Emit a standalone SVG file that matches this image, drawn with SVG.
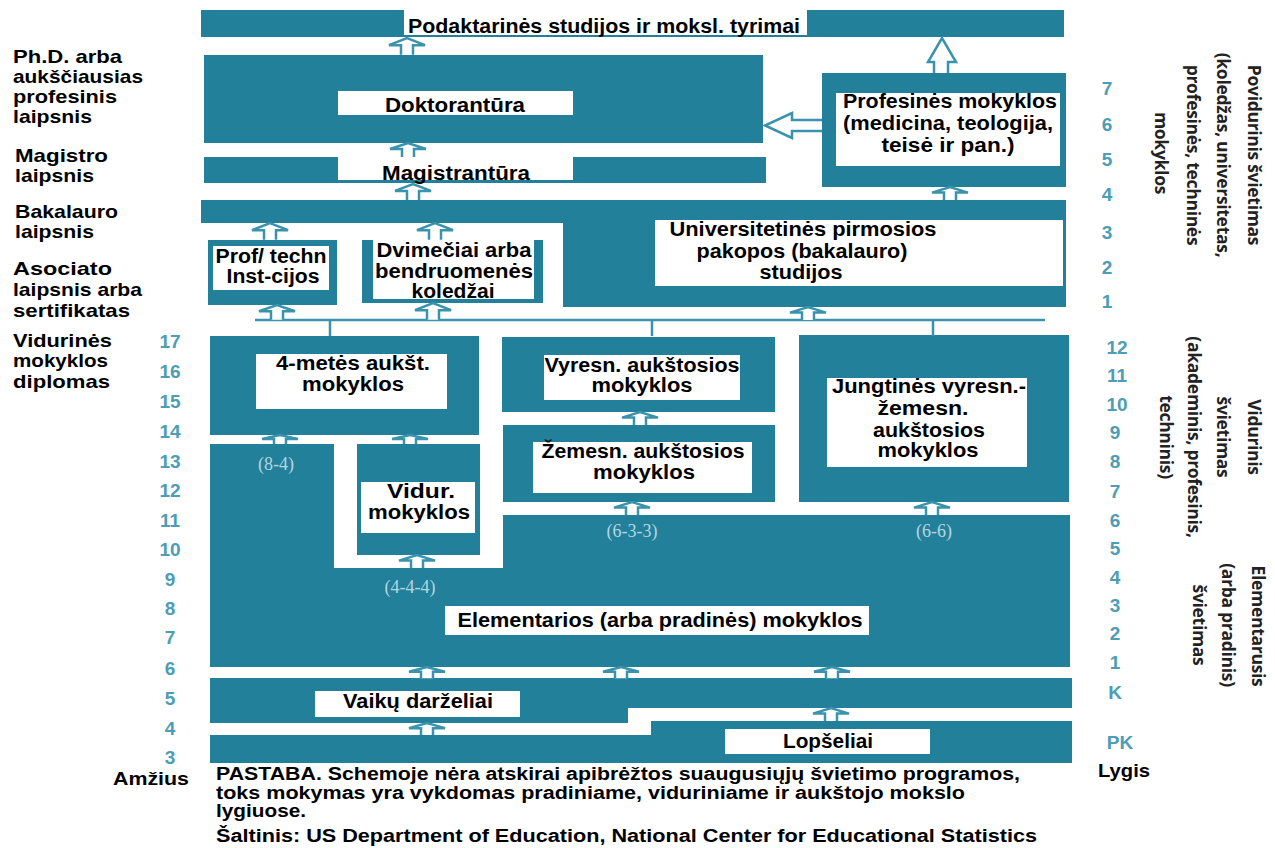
<svg xmlns="http://www.w3.org/2000/svg" xmlns:xlink="http://www.w3.org/1999/xlink" width="1275" height="848" viewBox="0 0 1275 848">
  <style>
    .blk { fill: #22809a; }
    .lbl { fill: #ffffff; }
    .t { font-family: "Liberation Sans", Arial, sans-serif; font-weight: bold; font-size: 20px; fill: #000; }
    .tc { text-anchor: middle; }
    .side { font-family: "Liberation Sans", Arial, sans-serif; font-weight: bold; font-size: 19px; fill: #000; }
    .num { font-family: "Liberation Sans", Arial, sans-serif; font-weight: bold; font-size: 19px; fill: #4d9db6; text-anchor: middle; }
    .plan { font-family: "Liberation Serif", "Times New Roman", serif; font-size: 18px; fill: #b3d6e1; text-anchor: middle; }
    .vert { font-family: "Open Sans", "Noto Sans", sans-serif; font-weight: bold; font-size: 17.5px; fill: #222; letter-spacing: -0.3px; text-anchor: middle; }
    .note { font-family: "Liberation Sans", Arial, sans-serif; font-weight: bold; font-size: 18px; fill: #000; }
    .arr { fill: #ffffff; stroke: #3a93ad; stroke-width: 2.5; stroke-linejoin: miter; }
    .link { stroke: #3a93ad; stroke-width: 2.5; fill: none; }
  </style>
  <defs>
    <!-- small hollow up-arrow, 14 units tall, tip at origin -->
    <path id="up" d="M-6,14 V6 H-18 L0,0 L18,6 H6 V14" vector-effect="non-scaling-stroke"/>
  </defs>

  <rect width="1275" height="848" fill="#ffffff"/>

  <!-- post-doctoral bar -->
  <g id="podaktarines">
    <rect class="blk" x="201" y="10" width="863" height="27"/>
    <rect class="lbl" x="404" y="10" width="403" height="25"/>
    <text class="t" x="408" y="33" textLength="392" lengthAdjust="spacingAndGlyphs">Podaktarinės studijos ir moksl. tyrimai</text>
  </g>

  <g id="doktorantura">
    <rect class="blk" x="204" y="55" width="559" height="88"/>
    <rect class="lbl" x="338" y="91" width="235" height="24"/>
    <text class="t tc" x="455" y="112" textLength="140" lengthAdjust="spacingAndGlyphs">Doktorantūra</text>
  </g>

  <g id="magistrantura">
    <rect class="blk" x="204" y="157" width="562" height="26"/>
    <rect class="lbl" x="338" y="157" width="235" height="23"/>
    <text class="t tc" x="456" y="180" textLength="148" lengthAdjust="spacingAndGlyphs">Magistrantūra</text>
  </g>

  <g id="profesines">
    <rect class="blk" x="822" y="73" width="244" height="114"/>
    <rect class="lbl" x="836" y="93" width="224" height="73"/>
    <text class="t tc" x="950" y="108" textLength="214" lengthAdjust="spacingAndGlyphs">Profesinės mokyklos</text>
    <text class="t tc" x="948" y="130" textLength="210" lengthAdjust="spacingAndGlyphs">(medicina, teologija,</text>
    <text class="t tc" x="948" y="152" textLength="133" lengthAdjust="spacingAndGlyphs">teisė ir  pan.)</text>
  </g>

  <g id="universitetines">
    <path class="blk" d="M201,200 H1066 V307 H563 V223 H201 Z"/>
    <rect class="lbl" x="655" y="220" width="408" height="66"/>
    <text class="t tc" x="803" y="236" textLength="267" lengthAdjust="spacingAndGlyphs">Universitetinės pirmosios</text>
    <text class="t tc" x="802" y="258" textLength="211" lengthAdjust="spacingAndGlyphs">pakopos (bakalauro)</text>
    <text class="t tc" x="801" y="279" textLength="83" lengthAdjust="spacingAndGlyphs">studijos</text>
  </g>

  <g id="prof-techn">
    <rect class="blk" x="208" y="240" width="129" height="65"/>
    <rect class="lbl" x="213" y="246" width="116" height="44"/>
    <text class="t tc" x="271" y="263" textLength="111" lengthAdjust="spacingAndGlyphs">Prof/ techn</text>
    <text class="t tc" x="273" y="283" textLength="93" lengthAdjust="spacingAndGlyphs">Inst-cijos</text>
  </g>

  <g id="dvimeciai">
    <rect class="blk" x="362" y="240" width="181" height="63"/>
    <rect class="lbl" x="373" y="240" width="161" height="59"/>
    <text class="t tc" x="454" y="257" textLength="155" lengthAdjust="spacingAndGlyphs">Dvimečiai arba</text>
    <text class="t tc" x="454" y="278" textLength="158" lengthAdjust="spacingAndGlyphs">bendruomenės</text>
    <text class="t tc" x="453" y="298" textLength="83" lengthAdjust="spacingAndGlyphs">koledžai</text>
  </g>

  <g id="ketur-metes">
    <rect class="blk" x="210" y="336" width="269" height="99"/>
    <rect class="lbl" x="256" y="354" width="191" height="55"/>
    <text class="t tc" x="353" y="370" textLength="154" lengthAdjust="spacingAndGlyphs">4-metės aukšt.</text>
    <text class="t tc" x="353" y="391" textLength="102" lengthAdjust="spacingAndGlyphs">mokyklos</text>
  </g>

  <g id="vyresn">
    <rect class="blk" x="502" y="337" width="273" height="75"/>
    <rect class="lbl" x="544" y="355" width="196" height="45"/>
    <text class="t tc" x="642" y="372" textLength="195" lengthAdjust="spacingAndGlyphs">Vyresn. aukštosios</text>
    <text class="t tc" x="642" y="392" textLength="101" lengthAdjust="spacingAndGlyphs">mokyklos</text>
  </g>

  <g id="zemesn">
    <rect class="blk" x="503" y="425" width="272" height="77"/>
    <rect class="lbl" x="533" y="442" width="219" height="51"/>
    <text class="t tc" x="643" y="458" textLength="203" lengthAdjust="spacingAndGlyphs">Žemesn. aukštosios</text>
    <text class="t tc" x="644" y="479" textLength="102" lengthAdjust="spacingAndGlyphs">mokyklos</text>
  </g>

  <g id="jungtines">
    <rect class="blk" x="799" y="335" width="270" height="167"/>
    <rect class="lbl" x="827" y="378" width="200" height="89"/>
    <text class="t tc" x="929" y="393" textLength="194" lengthAdjust="spacingAndGlyphs">Jungtinės vyresn.-</text>
    <text class="t tc" x="923" y="415" textLength="91" lengthAdjust="spacingAndGlyphs">žemesn.</text>
    <text class="t tc" x="929" y="437" textLength="112" lengthAdjust="spacingAndGlyphs">aukštosios</text>
    <text class="t tc" x="928" y="457" textLength="101" lengthAdjust="spacingAndGlyphs">mokyklos</text>
  </g>

  <g id="vidur">
    <rect class="blk" x="357" y="444" width="123" height="111"/>
    <rect class="lbl" x="361" y="482" width="114" height="51"/>
    <text class="t tc" x="421" y="498" textLength="68" lengthAdjust="spacingAndGlyphs">Vidur.</text>
    <text class="t tc" x="419" y="519" textLength="102" lengthAdjust="spacingAndGlyphs">mokyklos</text>
  </g>

  <g id="elementarios">
    <path class="blk" d="M210,444 H334 V568 H503 V515 H1070 V667 H210 Z"/>
    <rect class="lbl" x="445" y="606" width="424" height="29"/>
    <text class="t tc" x="660" y="627" textLength="405" lengthAdjust="spacingAndGlyphs">Elementarios (arba pradinės) mokyklos</text>
    <text class="plan" x="276" y="470">(8-4)</text>
    <text class="plan" x="410" y="593">(4-4-4)</text>
    <text class="plan" x="632" y="537">(6-3-3)</text>
    <text class="plan" x="934" y="537">(6-6)</text>
  </g>

  <g id="darzeliai">
    <path class="blk" d="M210,678 H1072 V708 H628 V723 H210 Z"/>
    <rect class="lbl" x="315" y="691" width="205" height="26"/>
    <text class="t tc" x="418" y="708" textLength="150" lengthAdjust="spacingAndGlyphs">Vaikų darželiai</text>
  </g>

  <g id="lopseliai">
    <path class="blk" d="M210,735 H651 V721 H1072 V763 H210 Z"/>
    <rect class="lbl" x="725" y="729" width="205" height="25"/>
    <text class="t tc" x="828" y="748" textLength="90" lengthAdjust="spacingAndGlyphs">Lopšeliai</text>
  </g>

  <!-- connectors -->
  <g id="connectors">
    <path class="link" d="M255,320 H1045 M330,320 V336 M652,320 V336 M933,320 V336"/>
    <!-- hollow arrows from the professional schools block -->
    <path class="arr" d="M822,120 H792 V113 L765,125.5 L792,138 V131 H822"/>
    <path class="arr" d="M934,73 V62 H928 L942,38 L956,62 H948 V73"/>
    <use href="#up" class="arr" transform="translate(407,38) scale(1,1.2)"/>
    <use href="#up" class="arr" transform="translate(408,143)"/>
    <use href="#up" class="arr" transform="translate(413,184) scale(1,1.15)"/>
    <use href="#up" class="arr" transform="translate(950,187) scale(1,0.93)"/>
    <use href="#up" class="arr" transform="translate(270,223) scale(1,1.2)"/>
    <use href="#up" class="arr" transform="translate(435,223) scale(1,1.2)"/>
    <use href="#up" class="arr" transform="translate(277,305) scale(1,1.05)"/>
    <use href="#up" class="arr" transform="translate(433,303) scale(1,1.2)"/>
    <use href="#up" class="arr" transform="translate(808,307) scale(1,0.93)"/>
    <use href="#up" class="arr" transform="translate(280,435) scale(1,0.65)"/>
    <use href="#up" class="arr" transform="translate(410,435) scale(1,0.65)"/>
    <use href="#up" class="arr" transform="translate(640,412) scale(1,0.93)"/>
    <use href="#up" class="arr" transform="translate(417,555) scale(1,0.93)"/>
    <use href="#up" class="arr" transform="translate(632,502) scale(1,0.93)"/>
    <use href="#up" class="arr" transform="translate(932,502) scale(1,0.93)"/>
    <use href="#up" class="arr" transform="translate(427,667) scale(1,0.8)"/>
    <use href="#up" class="arr" transform="translate(621,667) scale(1,0.8)"/>
    <use href="#up" class="arr" transform="translate(832,667) scale(1,0.8)"/>
    <use href="#up" class="arr" transform="translate(427,723) scale(1,0.86)"/>
    <use href="#up" class="arr" transform="translate(831,708) scale(1,0.93)"/>
  </g>

  <!-- degree labels on the left -->
  <g id="degrees">
    <text class="side" x="13" y="63" textLength="109" lengthAdjust="spacingAndGlyphs">Ph.D. arba</text>
    <text class="side" x="13" y="83" textLength="130" lengthAdjust="spacingAndGlyphs">aukščiausias</text>
    <text class="side" x="13" y="103" textLength="104" lengthAdjust="spacingAndGlyphs">profesinis</text>
    <text class="side" x="13" y="123" textLength="79" lengthAdjust="spacingAndGlyphs">laipsnis</text>
    <text class="side" x="15" y="162" textLength="93" lengthAdjust="spacingAndGlyphs">Magistro</text>
    <text class="side" x="15" y="182" textLength="79" lengthAdjust="spacingAndGlyphs">laipsnis</text>
    <text class="side" x="15" y="218" textLength="103" lengthAdjust="spacingAndGlyphs">Bakalauro</text>
    <text class="side" x="15" y="238" textLength="79" lengthAdjust="spacingAndGlyphs">laipsnis</text>
    <text class="side" x="13" y="275" textLength="99" lengthAdjust="spacingAndGlyphs">Asociato</text>
    <text class="side" x="13" y="296" textLength="129" lengthAdjust="spacingAndGlyphs">laipsnis arba</text>
    <text class="side" x="13" y="317" textLength="117" lengthAdjust="spacingAndGlyphs">sertifikatas</text>
    <text class="side" x="13" y="347" textLength="99" lengthAdjust="spacingAndGlyphs">Vidurinės</text>
    <text class="side" x="13" y="367" textLength="95" lengthAdjust="spacingAndGlyphs">mokyklos</text>
    <text class="side" x="13" y="388" textLength="97" lengthAdjust="spacingAndGlyphs">diplomas</text>
  </g>

  <!-- age scale -->
  <g id="ages">
    <text class="num" x="170" y="348">17</text>
    <text class="num" x="170" y="378">16</text>
    <text class="num" x="170" y="408">15</text>
    <text class="num" x="170" y="438">14</text>
    <text class="num" x="170" y="468">13</text>
    <text class="num" x="170" y="497">12</text>
    <text class="num" x="170" y="527">11</text>
    <text class="num" x="170" y="556">10</text>
    <text class="num" x="170" y="586">9</text>
    <text class="num" x="170" y="615">8</text>
    <text class="num" x="170" y="644">7</text>
    <text class="num" x="170" y="675">6</text>
    <text class="num" x="170" y="705">5</text>
    <text class="num" x="170" y="735">4</text>
    <text class="num" x="170" y="764">3</text>
    <text class="side" x="113" y="785" textLength="76" lengthAdjust="spacingAndGlyphs">Amžius</text>
  </g>

  <!-- level scale -->
  <g id="levels">
    <text class="num" x="1107" y="95">7</text>
    <text class="num" x="1107" y="131">6</text>
    <text class="num" x="1107" y="166">5</text>
    <text class="num" x="1107" y="201">4</text>
    <text class="num" x="1107" y="239">3</text>
    <text class="num" x="1107" y="274">2</text>
    <text class="num" x="1107" y="308">1</text>
    <text class="num" x="1117" y="354">12</text>
    <text class="num" x="1117" y="382">11</text>
    <text class="num" x="1117" y="411">10</text>
    <text class="num" x="1115" y="439">9</text>
    <text class="num" x="1115" y="468">8</text>
    <text class="num" x="1115" y="498">7</text>
    <text class="num" x="1115" y="527">6</text>
    <text class="num" x="1115" y="555">5</text>
    <text class="num" x="1115" y="584">4</text>
    <text class="num" x="1115" y="612">3</text>
    <text class="num" x="1115" y="640">2</text>
    <text class="num" x="1115" y="669">1</text>
    <text class="num" x="1115" y="699">K</text>
    <text class="num" x="1120" y="749">PK</text>
    <text class="side" x="1098" y="777" textLength="52" lengthAdjust="spacingAndGlyphs">Lygis</text>
  </g>

  <!-- sector captions, vertical -->
  <g id="povidurinis" class="vert">
    <text transform="translate(1248,155) rotate(90)">Povidurinis švietimas</text>
    <text transform="translate(1217,155) rotate(90)">(koledžas, universitetas,</text>
    <text transform="translate(1187,155) rotate(90)">profesinės, techninės</text>
    <text transform="translate(1155,153) rotate(90)">mokyklos</text>
  </g>
  <g id="vidurinis" class="vert">
    <text transform="translate(1248,437) rotate(90)">Vidurinis</text>
    <text transform="translate(1217,437) rotate(90)">švietimas</text>
    <text transform="translate(1188,437) rotate(90)">(akademinis, profesinis,</text>
    <text transform="translate(1160,437) rotate(90)">techninis)</text>
  </g>
  <g id="elementarusis" class="vert">
    <text transform="translate(1252,626) rotate(90)">Elementarusis</text>
    <text transform="translate(1222,625) rotate(90)">(arba pradinis)</text>
    <text transform="translate(1193,625) rotate(90)">švietimas</text>
  </g>

  <!-- footnote -->
  <g id="notes">
    <text class="note" x="216" y="780" textLength="804" lengthAdjust="spacingAndGlyphs">PASTABA. Schemoje nėra atskirai apibrėžtos suaugusiųjų švietimo programos,</text>
    <text class="note" x="216" y="799" textLength="749" lengthAdjust="spacingAndGlyphs">toks mokymas yra vykdomas pradiniame, viduriniame ir aukštojo mokslo</text>
    <text class="note" x="216" y="817" textLength="90" lengthAdjust="spacingAndGlyphs">lygiuose.</text>
    <text class="note" x="216" y="842" textLength="821" lengthAdjust="spacingAndGlyphs">Šaltinis: US Department of Education, National Center for Educational Statistics</text>
  </g>
</svg>
